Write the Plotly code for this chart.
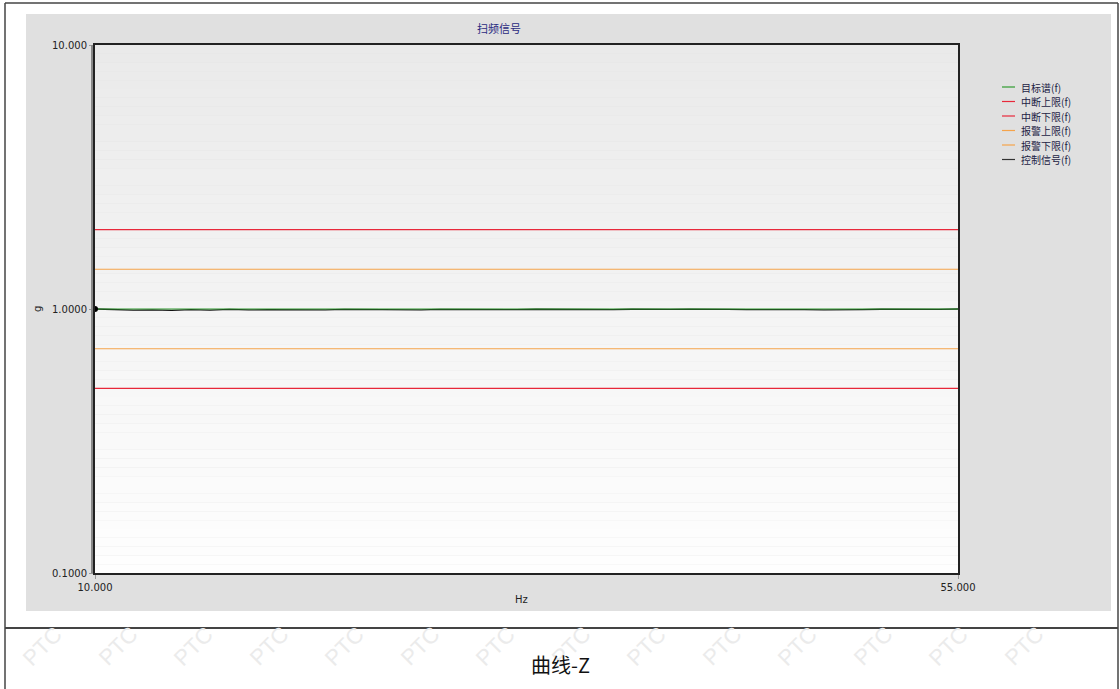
import plotly.graph_objects as go

W, H = 1120, 689

# ---------------- data ----------------
freq = [10, 11, 12, 13, 14, 15, 16, 17, 18, 19, 20, 21, 22, 23, 24, 25, 26, 27, 28, 29,
        30, 31, 32, 33, 34, 35, 36, 37, 38, 39, 40, 41, 42, 43, 44, 45, 46, 47, 48, 49,
        50, 51, 52, 53, 54, 55]
control = [1.000, 0.993, 0.990, 0.992, 0.988, 0.994, 0.991, 0.996, 0.992, 0.995,
           0.993, 0.997, 0.992, 0.996, 0.994, 0.998, 0.995, 0.993, 0.997, 0.995,
           0.999, 0.996, 0.994, 0.998, 0.996, 0.993, 0.997, 0.995, 0.998, 0.994,
           0.996, 0.999, 0.995, 0.997, 0.994, 0.996, 0.998, 0.995, 0.993, 0.997,
           0.995, 0.998, 0.996, 0.994, 0.997, 1.000]
f_range = [10, 55]
target = [1.0, 1.0]
abort_upper = [2.0, 2.0]
abort_lower = [0.5, 0.5]
alarm_upper = [1.4142, 1.4142]
alarm_lower = [0.7071, 0.7071]

series_names = ["目标谱(f)", "中断上限(f)", "中断下限(f)", "报警上限(f)", "报警下限(f)", "控制信号(f)"]
x_tickvals = [10, 55]
x_ticktext = ["10.000", "55.000"]
y_tickvals = [0.1, 1, 10]
y_ticktext = ["0.1000", "1.0000", "10.000"]

title_text = "扫频信号"
caption_text = "曲线-Z"
x_title = "Hz"
y_title = "g"

# ---------------- helpers ----------------
def px(x):
    return x / W

def py(y):
    return 1 - y / H

PL, PR, PT, PB = 95, 958, 45, 573

GREEN = "#2e9a2e"
RED = "#e8283a"
ORANGE = "#f5a34a"
BLACK = "#111111"
series_colors = [GREEN, RED, RED, ORANGE, ORANGE, "#333333"]

fig = go.Figure()

fig.add_trace(go.Scatter(x=freq, y=control, mode="lines", name=series_names[5],
                         line=dict(color=BLACK, width=1.3), showlegend=False))
fig.add_trace(go.Scatter(x=f_range, y=target, mode="lines", name=series_names[0],
                         line=dict(color=GREEN, width=1.2), showlegend=False))
fig.add_trace(go.Scatter(x=f_range, y=abort_upper, mode="lines", name=series_names[1],
                         line=dict(color=RED, width=1.2), showlegend=False))
fig.add_trace(go.Scatter(x=f_range, y=abort_lower, mode="lines", name=series_names[2],
                         line=dict(color=RED, width=1.2), showlegend=False))
fig.add_trace(go.Scatter(x=f_range, y=alarm_upper, mode="lines", name=series_names[3],
                         line=dict(color=ORANGE, width=1.2), showlegend=False))
fig.add_trace(go.Scatter(x=f_range, y=alarm_lower, mode="lines", name=series_names[4],
                         line=dict(color=ORANGE, width=1.2), showlegend=False))
fig.add_trace(go.Scatter(x=freq[:1], y=control[:1], mode="markers", showlegend=False,
                         marker=dict(color="#000000", size=6), cliponaxis=False))

shapes = []
# gray application panel
shapes.append(dict(type="rect", xref="paper", yref="paper", layer="below",
                   x0=px(26), x1=px(1111), y0=py(611), y1=py(14),
                   fillcolor="#e0e0e0", line=dict(width=0)))
# gradient plot background
n = 60
for i in range(n):
    t = i / (n - 1)
    c = int(round(0xea + (0xfe - 0xea) * t))
    shapes.append(dict(type="rect", xref="x domain", yref="y domain", layer="below",
                       x0=0, x1=1, y0=1 - (i + 1) / n, y1=1 - i / n,
                       fillcolor=f"rgb({c},{c},{c})", line=dict(width=0)))
# document table borders
for (x0, y0, x1, y1, wdt) in [(5, 3, 1118, 3, 1.5), (5, 628, 1118, 628, 2),
                              (5, 3, 5, 700, 1.5), (1118, 3, 1118, 700, 1.5)]:
    shapes.append(dict(type="line", xref="paper", yref="paper", layer="above",
                       x0=px(x0), x1=px(x1), y0=py(y0), y1=py(y1),
                       line=dict(color="#444444", width=wdt)))
# double left axis line
shapes.append(dict(type="line", xref="paper", yref="paper", layer="above",
                   x0=px(92), x1=px(92), y0=py(PB), y1=py(PT),
                   line=dict(color="#888888", width=2)))

annotations = []
# watermark (only in the white document area)
for k in range(14):
    annotations.append(dict(text="PTC", x=px(42 + 75.5 * k), y=py(646), xref="paper", yref="paper",
                            xanchor="center", yanchor="middle",
                            showarrow=False, textangle=-45,
                            font=dict(size=22, color="#ebebeb", family="Liberation Sans")))

# legend drawn compactly, matching the reference spacing
leg_y0, leg_dy = 87, 14.5
for i, (nm, col) in enumerate(zip(series_names, series_colors)):
    yy = leg_y0 + i * leg_dy
    shapes.append(dict(type="line", xref="paper", yref="paper", layer="above",
                       x0=px(1002), x1=px(1015), y0=py(yy), y1=py(yy),
                       line=dict(color=col, width=1.2)))
    annotations.append(dict(text=nm, x=px(1019), y=py(yy), xref="paper", yref="paper",
                            xanchor="left", yanchor="middle", showarrow=False,
                            font=dict(size=10, color="#222244", family="Noto Sans CJK SC")))

annotations.append(dict(text=title_text, x=px(499), y=py(28), xref="paper", yref="paper",
                        xanchor="center", yanchor="middle",
                        showarrow=False, font=dict(size=11, color="#2a2a80", family="Noto Sans CJK SC")))
annotations.append(dict(text=x_title, x=px(521), y=py(599), xref="paper", yref="paper",
                        xanchor="center", yanchor="middle",
                        showarrow=False, font=dict(size=10, color="#222222", family="DejaVu Sans")))
annotations.append(dict(text=y_title, x=px(37), y=py(309), xref="paper", yref="paper",
                        xanchor="center", yanchor="middle",
                        showarrow=False, textangle=-90,
                        font=dict(size=10, color="#222222", family="DejaVu Sans")))
annotations.append(dict(text=caption_text, x=px(560), y=py(664), xref="paper", yref="paper",
                        xanchor="center", yanchor="middle",
                        showarrow=False, font=dict(size=20, color="#111111", family="Noto Sans CJK SC")))

fig.update_layout(
    width=W, height=H,
    margin=dict(l=0, r=0, t=0, b=0, autoexpand=False),
    paper_bgcolor="white",
    plot_bgcolor="rgba(0,0,0,0)",
    shapes=shapes,
    annotations=annotations,
    showlegend=False,
    xaxis=dict(domain=[px(PL), px(PR)], range=f_range, tickvals=x_tickvals, ticktext=x_ticktext,
               automargin=False,
               showgrid=False, zeroline=False, showline=True, linecolor="#222222", linewidth=1.5,
               mirror=True, ticks="outside", ticklen=4, tickcolor="#999999",
               tickfont=dict(size=10, color="#222222", family="DejaVu Sans")),
    yaxis=dict(domain=[py(PB), py(PT)], type="log", range=[-1, 1],
               tickvals=y_tickvals, ticktext=y_ticktext, automargin=False,
               showgrid=False, zeroline=False, showline=True, linecolor="#222222", linewidth=2,
               mirror=True, ticks="outside", ticklen=4, tickcolor="#999999",
               tickfont=dict(size=10, color="#222222", family="DejaVu Sans"),
               minor=dict(ticks="outside", ticklen=2, tickcolor="#aaaaaa", showgrid=False)),
)

fig.write_html("out.html", config={"displayModeBar": False},
               post_script="document.body.style.margin='0';document.body.style.overflow='hidden';")
